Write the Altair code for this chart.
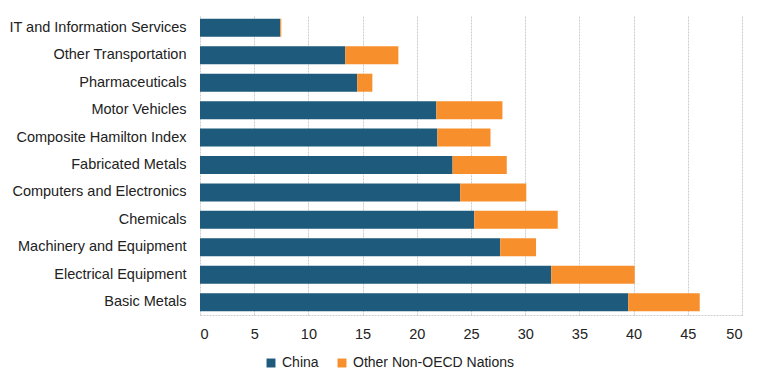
import altair as alt
import pandas as pd

categories = [
    "IT and Information Services",
    "Other Transportation",
    "Pharmaceuticals",
    "Motor Vehicles",
    "Composite Hamilton Index",
    "Fabricated Metals",
    "Computers and Electronics",
    "Chemicals",
    "Machinery and Equipment",
    "Electrical Equipment",
    "Basic Metals",
]
china = [7.4, 13.4, 14.5, 21.8, 21.9, 23.3, 24.0, 25.3, 27.7, 32.4, 39.5]
totals = [7.5, 18.3, 15.9, 27.9, 26.8, 28.3, 30.1, 33.0, 31.0, 40.1, 46.1]
other = [round(t - c, 2) for t, c in zip(totals, china)]
series = ["China", "Other Non-OECD Nations"]
colors = ["#1D5A7B", "#F78F2C"]

rows = []
for cat, c, o in zip(categories, china, other):
    rows.append({"category": cat, "series": series[0], "value": c, "ord": 0})
    rows.append({"category": cat, "series": series[1], "value": o, "ord": 1})
df = pd.DataFrame(rows)

FONT = "Liberation Sans, Arial, sans-serif"

chart = (
    alt.Chart(df)
    .mark_bar()
    .encode(
        y=alt.Y(
            "category:N",
            sort=categories,
            title=None,
            scale=alt.Scale(paddingInner=0.343, paddingOuter=0.14),
            axis=alt.Axis(
                ticks=False, domain=False, labelPadding=14, labelFontSize=14.5,
                labelColor="#222222", labelFont=FONT, grid=False, labelLimit=0,
            ),
        ),
        x=alt.X(
            "value:Q",
            stack="zero",
            title=None,
            scale=alt.Scale(domain=[0, 50], nice=False),
            axis=alt.Axis(
                values=list(range(0, 51, 5)), labelFontSize=14.5, labelColor="#222222",
                labelFont=FONT, ticks=False, labelPadding=12,
                grid=True, gridColor="#cccccc", gridDash=[2, 1],
                domain=True, domainColor="#cccccc", domainDash=[2, 1],
            ),
        ),
        color=alt.Color(
            "series:N",
            scale=alt.Scale(domain=series, range=colors),
            legend=alt.Legend(
                title=None, orient="none", direction="horizontal",
                legendX=64, legendY=341, symbolType="square", symbolSize=80,
                labelFontSize=14, labelFont=FONT, labelColor="#222222",
                columnPadding=16, symbolStrokeWidth=0, labelLimit=0,
            ),
        ),
        order=alt.Order("ord:Q"),
    )
    .properties(
        width=542, height=300,
        autosize=alt.AutoSizeParams(type="none"),
        padding={"left": 192, "top": 7, "right": 18, "bottom": 60},
    )
    .configure_view(stroke=None)
)

chart.save("out.html", embed_options={"renderer": "svg", "actions": False})
